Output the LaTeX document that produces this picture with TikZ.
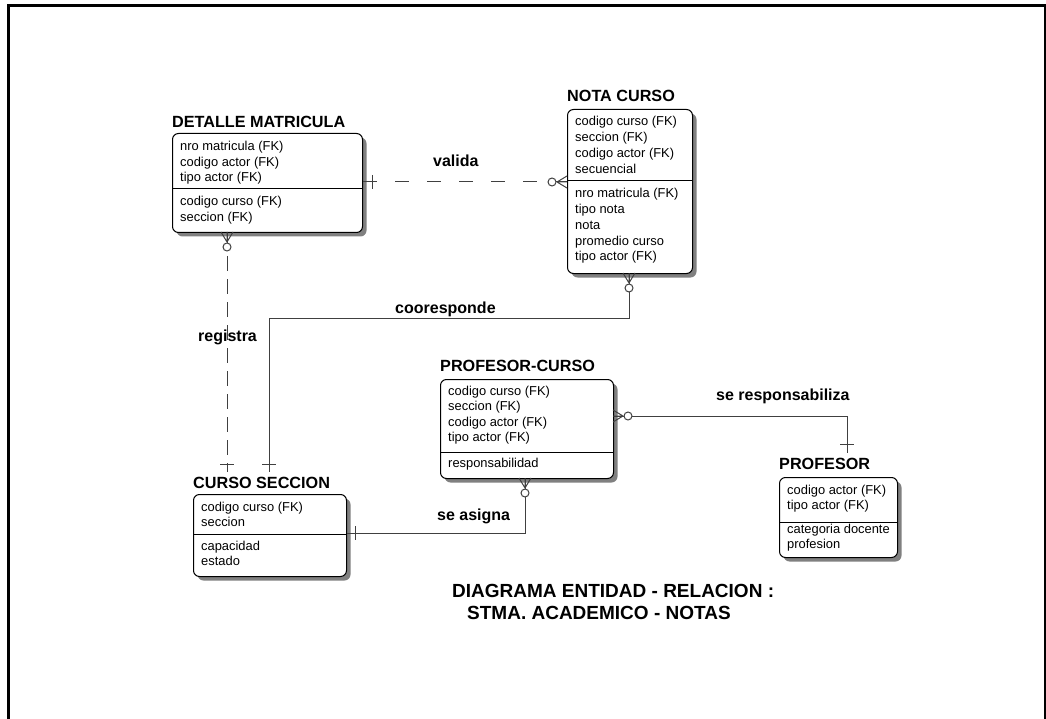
\documentclass[tikz,border=0pt]{standalone}
\usepackage{fontspec}
\setmainfont{Liberation Sans}
\usetikzlibrary{shadows,calc}

\tikzset{
  entity/.style={draw=black, line width=1pt, rounded corners=6pt, fill=white,
    anchor=north west, inner sep=0pt,
    general shadow={fill=black!50, shadow xshift=4pt, shadow yshift=-4pt}},
  etitle/.style={anchor=base west, inner xsep=0pt, inner ysep=4pt,
    font=\fontsize{16.2}{18}\selectfont\bfseries},
  attr/.style={anchor=base west, inner sep=0pt, font=\fontsize{12.9}{15}\selectfont},
  divider/.style={draw=black, line width=1pt},
  rel/.style={draw=black!75, line width=1pt},
  hdash/.style={dash pattern=on 14pt off 18pt},
  vdash/.style={dash pattern=on 15pt off 8pt},
  rlabel/.style={anchor=base west, inner sep=0pt, font=\fontsize{16}{18}\selectfont\bfseries},
  caption/.style={anchor=base west, inner sep=0pt, font=\fontsize{19}{21}\selectfont\bfseries},
  symline/.style={draw=black!75, line width=1pt},
  zmany/.pic={
    \draw[symline] (10,0) -- (0,-6) (10,0) -- (0,0) (10,0) -- (0,6);
    \draw[symline, fill=white] (15,0) circle[radius=4];
  },
  onemark/.pic={\draw[symline] (0,-7) -- (0,7);}
}

\begin{document}
\begin{tikzpicture}[x=1pt, y=-1pt]
  \useasboundingbox (0,0) rectangle (1046,719);

  % page frame
  \draw[line width=3pt] (8.5,719) -- (8.5,6) -- (1045,6);
  \draw[line width=2pt] (1045,4.5) -- (1045,719);

  % ---------- DETALLE MATRICULA ----------
  \node[entity, minimum width=190pt, minimum height=99pt] (dm) at (172,133) {};
  \node[etitle] (dm-t) at (172,128) {DETALLE MATRICULA};
  \draw[divider] (dm.west |- 0,189) -- (dm.east |- 0,189);
  \foreach \t [count=\i from 0] in {nro matricula (FK), codigo actor (FK), tipo actor (FK)}
    \node[attr] (dm-k\i) at (180,151+15.5*\i) {\t};
  \foreach \t [count=\i from 0] in {codigo curso (FK), seccion (FK)}
    \node[attr] (dm-a\i) at (180,206+15.5*\i) {\t};

  % ---------- NOTA CURSO ----------
  \node[entity, minimum width=125pt, minimum height=164pt] (nc) at (567,109) {};
  \node[etitle] (nc-t) at (567,102) {NOTA CURSO};
  \draw[divider] (nc.west |- 0,181) -- (nc.east |- 0,181);
  \foreach \t [count=\i from 0] in {codigo curso (FK), seccion (FK), codigo actor (FK), secuencial}
    \node[attr] (nc-k\i) at (575,126+15.7*\i) {\t};
  \foreach \t [count=\i from 0] in {nro matricula (FK), tipo nota, nota, promedio curso, tipo actor (FK)}
    \node[attr] (nc-a\i) at (575,198+15.7*\i) {\t};

  % ---------- PROFESOR-CURSO ----------
  \node[entity, minimum width=173pt, minimum height=99pt] (pc) at (440,379) {};
  \node[etitle] (pc-t) at (440,371) {PROFESOR-CURSO};
  \draw[divider] (pc.west |- 0,452) -- (pc.east |- 0,452);
  \foreach \t [count=\i from 0] in {codigo curso (FK), seccion (FK), codigo actor (FK), tipo actor (FK)}
    \node[attr] (pc-k\i) at (448,395+15.5*\i) {\t};
  \node[attr] (pc-a0) at (448,467) {responsabilidad};

  % ---------- CURSO SECCION ----------
  \node[entity, minimum width=153pt, minimum height=82pt] (cs) at (193,494) {};
  \node[etitle] (cs-t) at (193,488) {CURSO SECCION};
  \draw[divider] (cs.west |- 0,534) -- (cs.east |- 0,534);
  \foreach \t [count=\i from 0] in {codigo curso (FK), seccion}
    \node[attr] (cs-k\i) at (201,511+15.5*\i) {\t};
  \foreach \t [count=\i from 0] in {capacidad, estado}
    \node[attr] (cs-a\i) at (201,550+15.5*\i) {\t};

  % ---------- PROFESOR ----------
  \node[entity, minimum width=118pt, minimum height=80pt] (pf) at (779,477) {};
  \node[etitle] (pf-t) at (779,469) {PROFESOR};
  \draw[divider] (pf.west |- 0,522) -- (pf.east |- 0,522);
  \foreach \t [count=\i from 0] in {codigo actor (FK), tipo actor (FK)}
    \node[attr] (pf-k\i) at (787,494+15.5*\i) {\t};
  \foreach \t [count=\i from 0] in {categoria docente, profesion}
    \node[attr] (pf-a\i) at (787,533+15.5*\i) {\t};

  % ---------- relationships ----------
  % valida
  \draw[rel, hdash] (dm.east |- 0,182) -- (nc.west |- 0,182);
  \pic at (372,182) {onemark};
  \pic[rotate=180] at (567,182) {zmany};
  \node[rlabel] (l-valida) at (433,167) {valida};

  % registra
  \draw[rel, vdash] (dm.south -| 227,0) -- (cs-t.north -| 227,0);
  \pic[rotate=-90] at (227,232) {zmany};
  \pic[rotate=90] at (227,464) {onemark};
  \node[rlabel] (l-registra) at (198,341) {registra};

  % cooresponde
  \draw[rel] (nc.south -| 629,0) |- (269,318) -- (cs-t.north -| 269,0);
  \pic[rotate=-90] at (629,273) {zmany};
  \pic[rotate=90] at (269,464) {onemark};
  \node[rlabel] (l-coor) at (395,313) {cooresponde};

  % se asigna
  \draw[rel] (cs.east |- 0,533) -| (pc.south -| 525,0);
  \pic at (355,533) {onemark};
  \pic[rotate=-90] at (525,478) {zmany};
  \node[rlabel] (l-asigna) at (437,520) {se asigna};

  % se responsabiliza
  \draw[rel] (pc.east |- 0,416) -| (pf-t.north -| 847,0);
  \pic at (613,416) {zmany};
  \pic[rotate=90] at (847,444) {onemark};
  \node[rlabel] (l-resp) at (716,400) {se responsabiliza};

  % diagram caption
  \node[caption] (cap1) at (452,597) {DIAGRAMA ENTIDAD - RELACION :};
  \node[caption] (cap2) at (467,619) {STMA. ACADEMICO - NOTAS};
\end{tikzpicture}
\end{document}
